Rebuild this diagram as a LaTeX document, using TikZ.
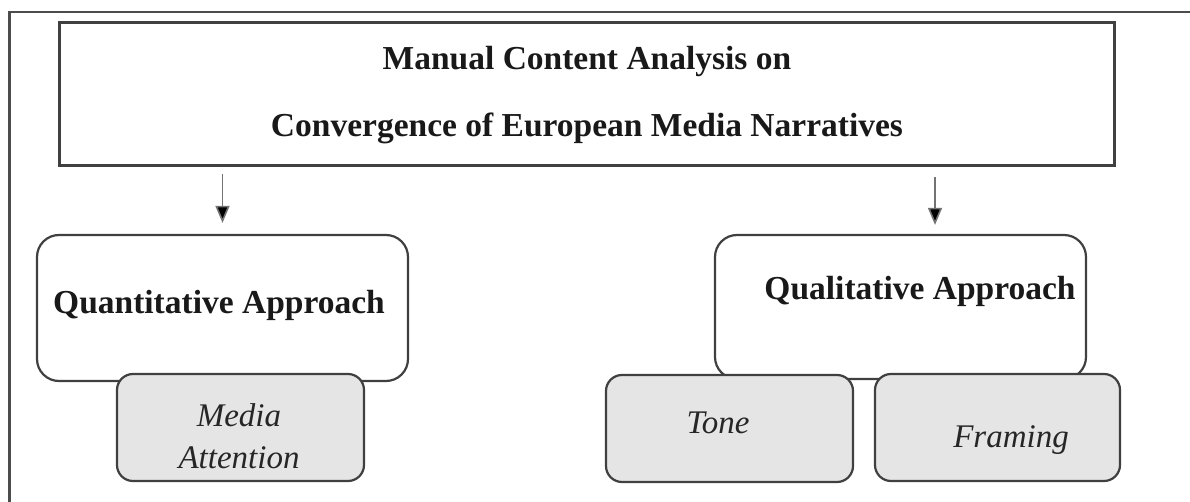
\documentclass[tikz,border=0pt]{standalone}
\usepackage{fontspec}
\setmainfont{Liberation Serif}
\usetikzlibrary{arrows.meta}
\begin{document}
\begin{tikzpicture}[x=1pt, y=-1pt]
\tikzset{
  frameline/.style={draw=black!70, line width=2.6pt},
  headbox/.style={draw=black!75, line width=3pt, inner sep=0pt},
  mainbox/.style={draw=black!75, fill=white, line width=2.2pt, rounded corners=22pt, inner sep=0pt},
  subbox/.style={draw=black!75, fill=black!10, line width=2.2pt, rounded corners=16pt, inner sep=0pt},
  headtext/.style={font=\fontsize{33.5}{38}\selectfont\bfseries, text=black!90, anchor=base, inner sep=0pt},
  maintext/.style={font=\fontsize{33.5}{38}\selectfont\bfseries, text=black!90, anchor=base, inner sep=0pt},
  subtext/.style={font=\fontsize{33}{38}\selectfont\itshape, text=black!85, anchor=base, inner sep=0pt},
  arr/.style={draw=black!55, line width=1.6pt, -{Triangle[length=17pt,width=14pt,fill=black]}}
}
\useasboundingbox (0,0) rectangle (1190,502);

% open frame round the figure
\draw[frameline] (9.5,502) -- (9.5,12) -- (1190,12);

% heading box
\node[headbox, minimum width=1055, minimum height=143] (title) at (586.5,94.5) {};
\node[headtext] (t1) at (587,70) {Manual Content Analysis on};
\node[headtext] (t2) at (587,137) {Convergence of European Media Narratives};

% the two approaches
\node[mainbox, minimum width=371, minimum height=146] (quant) at (222.5,308) {};
\node[mainbox, minimum width=371, minimum height=144] (qual) at (900.5,307) {};
\node[maintext] (quantT) at (219,313) {Quantitative Approach};
\node[maintext] (qualT) at (920,300) {Qualitative Approach};

% their sub-categories
\node[subbox, minimum width=247, minimum height=107] (media) at (240.5,427.5) {};
\node[subbox, minimum width=247, minimum height=107] (tone) at (729.5,428.5) {};
\node[subbox, minimum width=245, minimum height=107] (framing) at (997.5,427.5) {};
\node[subtext] (mediaT1) at (239,426) {Media};
\node[subtext] (mediaT2) at (239,468) {Attention};
\node[subtext] (toneT) at (718,433) {Tone};
\node[subtext] (framingT) at (1011,447) {Framing};

% arrows from the heading
\coordinate (rx) at (935,0);
\draw[arr, shorten <=7pt, shorten >=11pt] (title.south -| quant.north) -- (quant.north);
\draw[arr, shorten <=10pt, shorten >=9pt] (title.south -| rx) -- (qual.north -| rx);
\end{tikzpicture}
\end{document}
